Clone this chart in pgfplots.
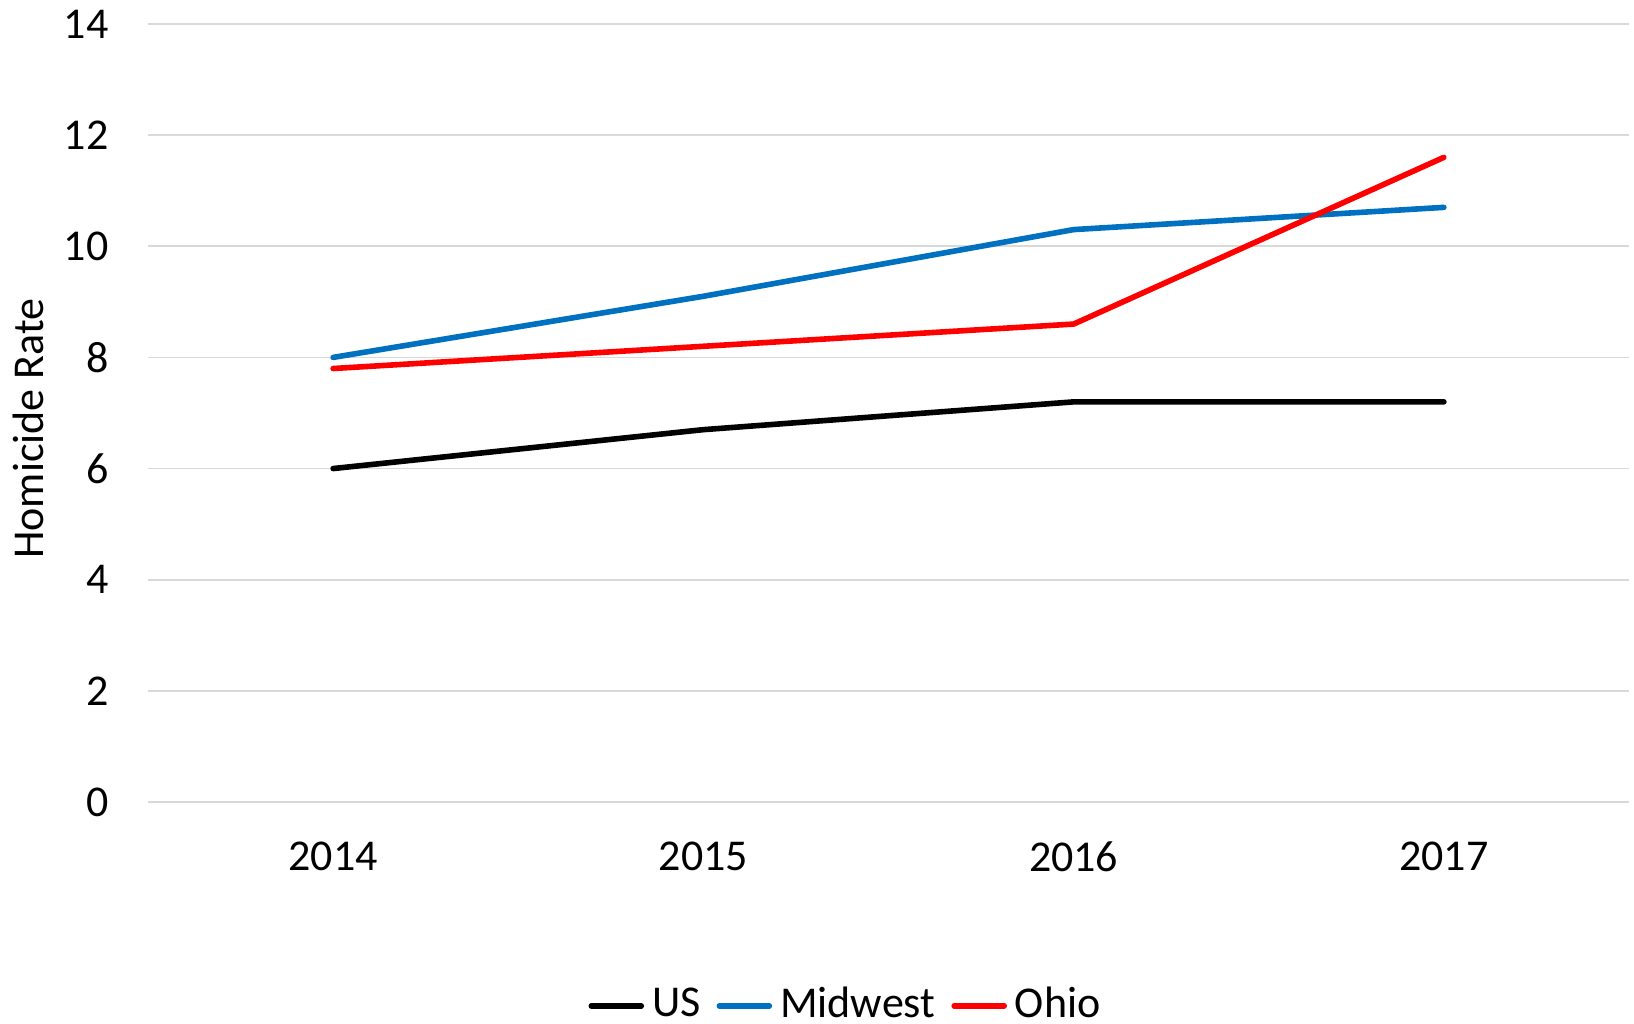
\documentclass[border=0pt]{standalone}
\usepackage{pgfplots}
\pgfplotsset{compat=1.18}
\usepackage{fontspec}
\setmainfont{Carlito}
\definecolor{mblue}{HTML}{0070C0}
\definecolor{mred}{HTML}{FF0000}
\definecolor{gridgray}{HTML}{D9D9D9}
\begin{document}
\fontsize{11}{13}\selectfont
\begin{tikzpicture}
\begin{axis}[
  at={(0,0)}, anchor=south west,
  scale only axis,
  width=370.25pt, height=194.5pt,
  xmin=2013.5, xmax=2017.5,
  ymin=0, ymax=14,
  xtick={2014,2015,2016,2017},
  xticklabels={2014,2015,2016,2017},
  ytick={0,2,...,14},
  axis line style={draw=none},
  major tick length=0pt,
  ymajorgrids,
  grid style={gridgray, line width=0.4pt},
  /pgf/number format/assume math mode=true,
  ticklabel style={font=\fontsize{11}{13}\selectfont},
  xticklabel style={yshift=-6pt},
  yticklabel style={xshift=-6pt},
  ylabel={Homicide Rate},
  ylabel style={at={(axis description cs:-0.081,0.48)}, rotate=0, anchor=center, font=\fontsize{11}{13}\selectfont},
  legend style={at={(axis description cs:0.473,-0.262)}, anchor=center, draw=none, fill=none,
    legend columns=3, font=\fontsize{11}{13}\selectfont,
    /tikz/every even column/.append style={column sep=2pt}},
  legend image code/.code={\draw[#1, line width=1.4pt] (0pt,0pt) -- (12.5pt,0pt);},
  every axis plot/.append style={line width=1.4pt, line join=round, line cap=round},
]
\addplot[black, mark=none] coordinates {(2014,6.0) (2015,6.7) (2016,7.2) (2017,7.2)};
\addlegendentry{US}
\addplot[mblue, mark=none] coordinates {(2014,8.0) (2015,9.1) (2016,10.3) (2017,10.7)};
\addlegendentry{Midwest}
\addplot[mred, mark=none] coordinates {(2014,7.8) (2015,8.2) (2016,8.6) (2017,11.6)};
\addlegendentry{Ohio}
\end{axis}
\pgfresetboundingbox
\path (-37pt,-55.5pt) rectangle (371.5pt,200.5pt);
\end{tikzpicture}
\end{document}
